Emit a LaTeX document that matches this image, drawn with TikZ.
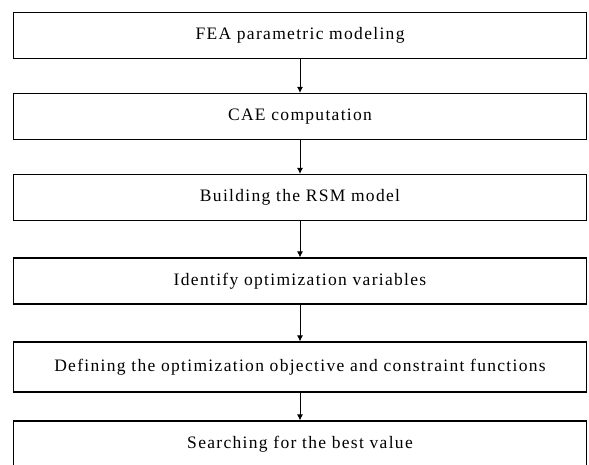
\documentclass[tikz,border=0pt]{standalone}
\usepackage{fontspec}
\setmainfont{Liberation Serif}[LetterSpace=7.5]
\usepackage{tikz}
\usetikzlibrary{positioning,chains,arrows.meta}

\begin{document}
\begin{tikzpicture}[>={Latex[length=6pt,width=6pt]},
						block/.style={
							rectangle,
							draw=black, line width=1.2pt,
							minimum height=46pt,
							minimum width=573pt,
							inner sep=0pt,
							font=\fontsize{17.5}{21}\selectfont,
							align=center
						},
						every join/.style={->, line width=0.9pt},
						chained/.style={every node/.style={on chain}},
						node distance=33.8pt]

						\useasboundingbox (0,0) rectangle (589pt,464pt);

						\begin{scope}[start chain=going below, chained]

							% Modelling and computation
							\node [block] (fea) at (300pt,428.5pt) {FEA parametric modeling};
							\node [block,join] (cae) {CAE computation};

							% Surrogate model and variables
							\node [block,join] (rsm) {Building the RSM model};
							\node [block,join,yshift=-2.5pt] (vars) {Identify optimization variables};

							% Objective, constraints and search
							\node [block,join,minimum height=50pt,yshift=-3pt] (objective) {Defining the optimization objective and constraint functions};
							\node [block,join,yshift=6pt] (search) {Searching for the best value};
						\end{scope}
					\end{tikzpicture}
\end{document}
